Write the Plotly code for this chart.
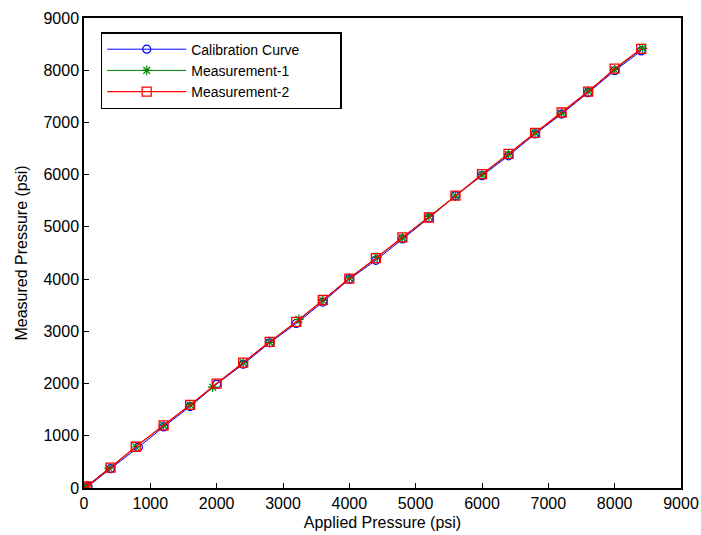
import plotly.graph_objects as go

# Calibration curve (blue circles)
cal_x = [0, 60, 400, 820, 1200, 1600, 2000, 2400, 2800, 3200, 3600, 4000, 4400, 4800, 5200, 5600, 6000, 6400, 6800, 7200, 7600, 8000, 8400]
cal_y = [0, 30, 370, 780, 1170, 1560, 1990, 2370, 2780, 3150, 3560, 4000, 4360, 4770, 5170, 5600, 5980, 6360, 6780, 7160, 7570, 7990, 8370]

# Measurement-1 (green stars)
m1_x = [0, 50, 380, 780, 1200, 1600, 1940, 2400, 2800, 3240, 3600, 4000, 4420, 4800, 5200, 5600, 6000, 6400, 6800, 7200, 7600, 8000, 8420]
m1_y = [0, 40, 380, 790, 1200, 1590, 1930, 2400, 2790, 3230, 3590, 4020, 4420, 4790, 5200, 5590, 6000, 6390, 6800, 7180, 7600, 8010, 8420]

# Measurement-2 (red squares)
m2_x = [0, 40, 400, 780, 1200, 1600, 2000, 2400, 2800, 3200, 3600, 4000, 4400, 4800, 5200, 5600, 6000, 6400, 6800, 7200, 7600, 8000, 8400]
m2_y = [0, 30, 390, 790, 1200, 1590, 2000, 2400, 2800, 3180, 3600, 4010, 4400, 4800, 5180, 5600, 6010, 6400, 6800, 7190, 7590, 8030, 8410]

x_ticks = [0, 1000, 2000, 3000, 4000, 5000, 6000, 7000, 8000, 9000]
y_ticks = [0, 1000, 2000, 3000, 4000, 5000, 6000, 7000, 8000, 9000]

FONT = "Liberation Sans, Arial, sans-serif"
NB = "\u00a0"

fig = go.Figure()
fig.add_trace(go.Scatter(
    x=cal_x, y=cal_y, mode="lines+markers", name="Calibration Curve" + NB * 9,
    line=dict(color="#0000ff", width=1),
    marker=dict(symbol="circle-open", size=8, color="#0000ff", line=dict(width=1.2, color="#0000ff")),
))
fig.add_trace(go.Scatter(
    x=m1_x, y=m1_y, mode="lines+markers", name="Measurement-1",
    line=dict(color="#008000", width=1),
    marker=dict(symbol="asterisk-open", size=8, color="#008000", line=dict(width=1.2, color="#008000")),
))
fig.add_trace(go.Scatter(
    x=m2_x, y=m2_y, mode="lines+markers", name="Measurement-2",
    line=dict(color="#ff0000", width=1.3),
    marker=dict(symbol="square-open", size=9, color="#ff0000", line=dict(width=1.3, color="#ff0000")),
))

axis_common = dict(
    showgrid=False, zeroline=False, showline=True, linecolor="black", linewidth=1.5,
    mirror=True, ticks="inside", ticklen=5, tickcolor="black", tickwidth=1,
    tickfont=dict(family=FONT, size=16, color="black"), automargin=False,
)

fig.update_xaxes(range=[0, 9000], tickvals=x_ticks, ticktext=[str(v) for v in x_ticks],
                 title=dict(text="Applied Pressure (psi)", font=dict(family=FONT, size=16, color="black"), standoff=6),
                 **axis_common)
fig.update_yaxes(range=[0, 9000], tickvals=y_ticks, ticktext=[str(v) for v in y_ticks],
                 title=dict(text="Measured Pressure (psi)", font=dict(family=FONT, size=16, color="black"), standoff=12),
                 **axis_common)

fig.update_layout(
    width=701, height=535,
    margin=dict(l=84, r=20, t=18, b=47),
    plot_bgcolor="white", paper_bgcolor="white",
    font=dict(family=FONT, size=16, color="black"),
    legend=dict(
        x=0.028, y=0.97, xanchor="left", yanchor="top",
        bgcolor="white", bordercolor="black", borderwidth=1.5,
        font=dict(family=FONT, size=14, color="black"),
        itemwidth=79, tracegroupgap=0,
    ),
    showlegend=True,
)

fig.write_html(
    "out.html",
    config={"displayModeBar": False},
    post_script="document.body.style.margin='0';document.body.style.padding='0';"
                "document.documentElement.style.overflow='hidden';",
)
